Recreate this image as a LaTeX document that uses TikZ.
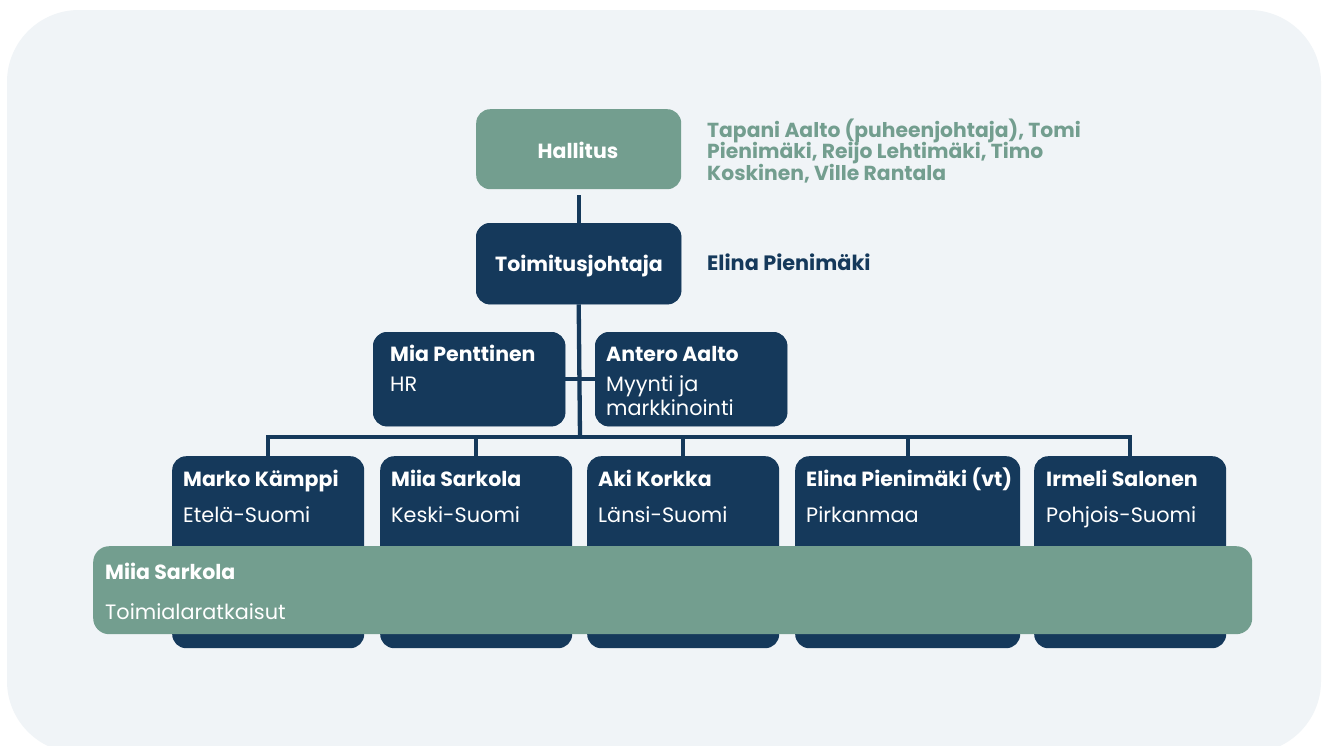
\documentclass[tikz,border=0pt]{standalone}
\usepackage{fontspec}
\setmainfont{Poppins}
\usetikzlibrary{calc}
\definecolor{navy}{HTML}{15395B}
\definecolor{sage}{HTML}{739E8F}
\definecolor{bgc}{HTML}{F0F4F7}
\begin{document}
\begin{tikzpicture}[x=1pt,y=-1pt,
  navybox/.style={fill=navy, rounded corners=14pt, inner sep=0pt, anchor=north west},
  sagebox/.style={fill=sage, rounded corners=14pt, inner sep=0pt, anchor=north west},
  nametext/.style={font=\bfseries\fontsize{20.5}{24}\selectfont, text=white, anchor=base west, inner sep=0pt},
  subtext/.style={font=\fontsize{20.8}{24}\selectfont, text=white, anchor=base west, inner sep=0pt},
  conn/.style={draw=navy, line width=4.3pt}]
\useasboundingbox (0,0) rectangle (1324,745);
\fill[white] (0,0) rectangle (1324,745);
\fill[bgc, rounded corners=72pt] (7,10) rectangle (1321,753);

% top boxes
\node[sagebox, minimum width=205pt, minimum height=80pt] (hal) at (476,109) {};
\node[navybox, minimum width=205pt, minimum height=81pt] (toim) at (476,223) {};
\node[font=\bfseries\fontsize{20.3}{21.5}\selectfont, text=sage, align=left, anchor=north west, inner sep=0pt] (board) at (707,119)
  {Tapani Aalto (puheenjohtaja), Tomi\\[-1.5pt]Pienimäki, Reijo Lehtimäki, Timo\\[-1.5pt]Koskinen, Ville Rantala};
\node[font=\bfseries\fontsize{20.8}{24}\selectfont, text=navy, anchor=base west, inner sep=0pt] (ceo) at (707,270) {Elina Pienimäki};

% staff boxes
\node[navybox, minimum width=192pt, minimum height=94pt] (mia) at (373,332) {};
\node[navybox, minimum width=192pt, minimum height=94pt] (ant) at (595,332) {};

% regional boxes
\node[navybox, minimum width=192pt, minimum height=192pt] (b1) at (172,456) {};
\node[navybox, minimum width=192pt, minimum height=192pt] (b2) at (380,456) {};
\node[navybox, minimum width=192pt, minimum height=192pt] (b3) at (587,456) {};
\node[navybox, minimum width=225pt, minimum height=192pt] (b4) at (795,456) {};
\node[navybox, minimum width=192pt, minimum height=192pt] (b5) at (1034,456) {};

% connectors
\coordinate (bus) at (580,437);
\draw[conn] ([yshift=-6pt]hal.south) -- (toim.north);
\draw[conn] (toim.south) -- (bus);
\draw[conn] (mia.east) -- (ant.west);
\draw[conn] (b1.north) |- (bus) -| (b5.north);
\draw[conn] (bus) -| (b2.north);
\draw[conn] (bus) -| (b3.north);
\draw[conn] (bus) -| (b4.north);

% redraw boxes over connector ends
\fill[navy, rounded corners=14pt] (mia.north west) rectangle (mia.south east);
\fill[navy, rounded corners=14pt] (ant.north west) rectangle (ant.south east);
\fill[navy, rounded corners=14pt] (toim.north west) rectangle (toim.south east);

% box titles
\node[nametext, anchor=base] (halT) at (578,158) {Hallitus};
\node[nametext, anchor=base] (toimT) at (579,271) {Toimitusjohtaja};

% texts in staff boxes
\node[nametext] (miaN) at ($(mia.north west)+(17,29)$) {Mia Penttinen};
\node[subtext] (miaS) at ($(mia.north west)+(17,59)$) {HR};
\node[nametext] (antN) at ($(ant.north west)+(11,29)$) {Antero Aalto};
\node[subtext] (antS1) at ($(ant.north west)+(11,59)$) {Myynti ja};
\node[subtext] (antS2) at ($(ant.north west)+(11,83)$) {markkinointi};

% texts in regional boxes
\node[nametext] (b1N) at ($(b1.north west)+(11,30)$) {Marko Kämppi};
\node[subtext] (b1S) at ($(b1.north west)+(11,66)$) {Etelä-Suomi};
\node[nametext] (b2N) at ($(b2.north west)+(11,30)$) {Miia Sarkola};
\node[subtext] (b2S) at ($(b2.north west)+(11,66)$) {Keski-Suomi};
\node[nametext] (b3N) at ($(b3.north west)+(11,30)$) {Aki Korkka};
\node[subtext] (b3S) at ($(b3.north west)+(11,66)$) {Länsi-Suomi};
\node[nametext] (b4N) at ($(b4.north west)+(11,30)$) {Elina Pienimäki (vt)};
\node[subtext] (b4S) at ($(b4.north west)+(11,66)$) {Pirkanmaa};
\node[nametext] (b5N) at ($(b5.north west)+(12,30)$) {Irmeli Salonen};
\node[subtext] (b5S) at ($(b5.north west)+(12,66)$) {Pohjois-Suomi};

% green band
\node[sagebox, minimum width=1159pt, minimum height=88pt, rounded corners=16pt] (band) at (93,546) {};
\node[nametext] (bandN) at ($(band.north west)+(12,33)$) {Miia Sarkola};
\node[subtext] (bandS) at ($(band.north west)+(12,73)$) {Toimialaratkaisut};
\end{tikzpicture}
\end{document}
